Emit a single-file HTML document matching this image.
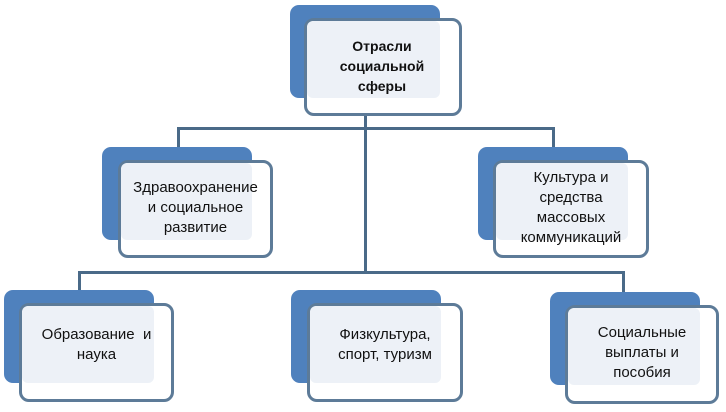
<!DOCTYPE html>
<html><head><meta charset="utf-8"><style>
body{margin:0;width:726px;height:412px;background:#fff;position:relative;overflow:hidden;font-family:"Liberation Sans","DejaVu Sans",sans-serif}
.b{position:absolute;background:#4f81bd;border-radius:9px}
.w{position:absolute;background:#fff;border:3px solid #5d7b98;border-radius:10px;box-sizing:border-box}
.f{position:absolute;background:#edf1f7;border-radius:6px}
.t{position:absolute;display:flex;align-items:center;justify-content:center;text-align:center;font-size:15px;line-height:20px;color:#111;white-space:nowrap}
.l{position:absolute;background:#4a6a88}
</style></head><body>
<div class="l" style="left:364px;top:112px;width:3px;height:162px"></div>
<div class="l" style="left:177px;top:127px;width:377px;height:3px"></div>
<div class="l" style="left:177px;top:127px;width:3px;height:22px"></div>
<div class="l" style="left:552px;top:127px;width:3px;height:22px"></div>
<div class="l" style="left:78px;top:271px;width:547px;height:3px"></div>
<div class="l" style="left:78px;top:271px;width:3px;height:22px"></div>
<div class="l" style="left:622px;top:271px;width:3px;height:22px"></div>

<div class="b" style="left:290px;top:5px;width:150px;height:93px"></div>
<div class="w" style="left:304px;top:18px;width:158px;height:98px"></div>
<div class="f" style="left:307px;top:21px;width:133px;height:77px"></div>
<div class="t" style="left:307px;top:21px;width:150px;height:90px;font-weight:bold;font-size:14px">Отрасли<br>социальной<br>сферы</div>

<div class="b" style="left:102px;top:147px;width:150px;height:93px"></div>
<div class="w" style="left:118px;top:160px;width:155px;height:98px"></div>
<div class="f" style="left:121px;top:163px;width:131px;height:77px"></div>
<div class="t" style="left:121px;top:163px;width:149px;height:90px">Здравоохранение<br>и социальное<br>развитие</div>

<div class="b" style="left:478px;top:147px;width:150px;height:93px"></div>
<div class="w" style="left:493px;top:160px;width:156px;height:98px"></div>
<div class="f" style="left:496px;top:163px;width:132px;height:77px"></div>
<div class="t" style="left:496px;top:163px;width:150px;height:90px">Культура и<br>средства<br>массовых<br>коммуникаций</div>

<div class="b" style="left:4px;top:290px;width:150px;height:93px"></div>
<div class="w" style="left:19px;top:303px;width:155px;height:99px"></div>
<div class="f" style="left:22px;top:306px;width:132px;height:77px"></div>
<div class="t" style="left:22px;top:306px;width:149px;height:78px">Образование&nbsp; и<br>наука</div>

<div class="b" style="left:291px;top:290px;width:150px;height:93px"></div>
<div class="w" style="left:307px;top:303px;width:156px;height:99px"></div>
<div class="f" style="left:310px;top:306px;width:131px;height:77px"></div>
<div class="t" style="left:310px;top:306px;width:150px;height:78px">Физкультура,<br>спорт, туризм</div>

<div class="b" style="left:550px;top:292px;width:150px;height:93px"></div>
<div class="w" style="left:565px;top:305px;width:154px;height:99px"></div>
<div class="f" style="left:568px;top:308px;width:132px;height:77px"></div>
<div class="t" style="left:568px;top:308px;width:148px;height:90px">Социальные<br>выплаты и<br>пособия</div>
</body></html>
